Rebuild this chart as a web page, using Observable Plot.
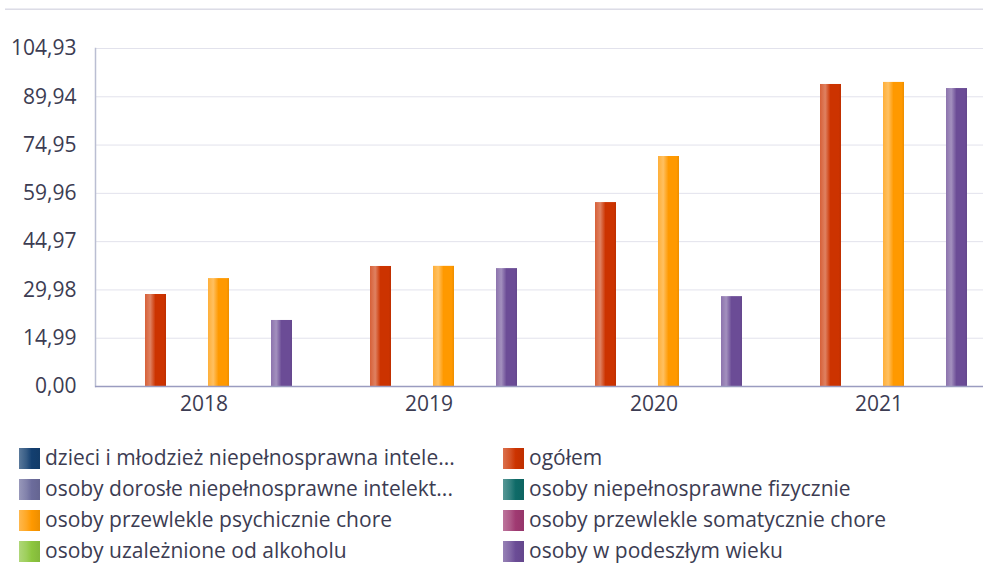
<!DOCTYPE html>
<html>
<head>
<meta charset="utf-8">
<script src="https://cdn.jsdelivr.net/npm/d3@7"></script>
<script src="https://cdn.jsdelivr.net/npm/@observablehq/plot@0.6"></script>
<style>
  html, body { margin: 0; padding: 0; background: #fff; overflow: hidden; width: 983px; height: 563px; }
  #wrap { position: relative; width: 983px; height: 563px; font-family: "Open Sans", sans-serif; overflow: hidden; }
  #topline { position: absolute; left: 5px; top: 8px; width: 990px; height: 0; border-top: 1px solid #ececf2; border-bottom: 1px solid #dcdce6; }
  #chart { position: absolute; left: 0; top: 0; width: 995px; }
  #chart svg { max-width: none !important; width: 995px; height: 425px; }
  .legend-item { position: absolute; display: flex; align-items: center; height: 21px; font-size: 21px; line-height: 21px; color: #3c3c52; white-space: nowrap; }
  .legend-item .sw { width: 21px; height: 21px; margin-right: 5px; flex: none; }
  .legend-item span { position: relative; top: -1px; }
</style>
</head>
<body>
<div id="wrap">
  <div id="topline"></div>
  <div id="chart"></div>
  <div id="legend"></div>
</div>
<script>
// ---- data ----
const years = ["2018", "2019", "2020", "2021"];
const seriesNames = [
  "dzieci i młodzież niepełnosprawna intele...",
  "ogółem",
  "osoby dorosłe niepełnosprawne intelekt...",
  "osoby niepełnosprawne fizycznie",
  "osoby przewlekle psychicznie chore",
  "osoby przewlekle somatycznie chore",
  "osoby uzależnione od alkoholu",
  "osoby w podeszłym wieku"
];
const seriesColors = ["#133f70", "#cc3300", "#6c6c9c", "#0f6b68", "#ff9900", "#a03a72", "#8dc63f", "#6b4c96"];
const ogolem = [28.56, 37.26, 57.1, 93.76];
const przewlekleChore = [33.5, 37.3, 71.4, 94.4];
const podeszlyWiek = [20.5, 36.6, 27.9, 92.5];
const yTicks = [0, 14.99, 29.98, 44.97, 59.96, 74.95, 89.94, 104.93];

// table for the library
const rows = [];
years.forEach((y, i) => {
  rows.push({year: y, series: seriesNames[1], value: ogolem[i]});
  rows.push({year: y, series: seriesNames[4], value: przewlekleChore[i]});
  rows.push({year: y, series: seriesNames[7], value: podeszlyWiek[i]});
});

const gradIds = seriesColors.map((c, i) => "grad" + i);
const mix = (c, t) => d3.interpolateRgb(c, "#ffffff")(t);

const chart = Plot.plot({
  width: 995,
  height: 425,
  marginLeft: 95,
  marginRight: 0,
  marginTop: 48,
  marginBottom: 39,
  style: {fontFamily: "'Open Sans', sans-serif", fontSize: "21px", color: "#3c3c52", background: "transparent", maxWidth: "none"},
  fx: {domain: years, paddingInner: 0, paddingOuter: 0, label: null},
  x: {domain: seriesNames, paddingInner: 0, paddingOuter: 1.357, axis: null},
  y: {domain: [0, 104.93], label: null},
  color: {domain: seriesNames, range: gradIds.map(id => `url(#${id})`)},
  marks: [
    Plot.gridY(yTicks, {stroke: "#e2e2ec", strokeOpacity: 1}),
    Plot.frame({anchor: "left", facetAnchor: "left", stroke: "#babed2", strokeWidth: 1.5}),
    Plot.barY(rows, {fx: "year", x: "series", y: "value", fill: "series"}),
    Plot.ruleY([0], {stroke: "#9a9cc0", strokeWidth: 1.5}),
    Plot.axisY(yTicks, {tickSize: 0, tickPadding: 19, fontSize: 21, label: null,
      tickFormat: d => d.toFixed(2).replace(".", ",")}),
    Plot.axisFx({anchor: "bottom", tickSize: 0, tickPadding: 10, dx: -4, fontSize: 21, label: null})
  ]
});

// gradient definitions for the bar shading
const svg = d3.select(chart);
const defs = svg.insert("defs", ":first-child");
seriesColors.forEach((c, i) => {
  const g = defs.append("linearGradient").attr("id", gradIds[i])
    .attr("x1", "0%").attr("x2", "100%").attr("y1", "0%").attr("y2", "0%");
  [[0, mix(c, 0.22)], [0.25, mix(c, 0.38)], [0.5, c], [0.88, c], [1, d3.color(c).darker(0.2).formatHex()]]
    .forEach(([o, col]) => g.append("stop").attr("offset", o).attr("stop-color", col));
});
document.getElementById("chart").appendChild(chart);

// legend
const legend = document.getElementById("legend");
const order = [0, 2, 4, 6, 1, 3, 5, 7];
order.forEach((si, k) => {
  const col = k < 4 ? 0 : 1;
  const row = k % 4;
  const c = seriesColors[si];
  const item = document.createElement("div");
  item.className = "legend-item";
  item.style.left = (col === 0 ? 19 : 503) + "px";
  item.style.top = (447.5 + row * 31) + "px";
  const sw = document.createElement("div");
  sw.className = "sw";
  sw.style.background = `linear-gradient(to right, ${mix(c, 0.3)} 0%, ${mix(c, 0.15)} 35%, ${c} 60%, ${d3.color(c).darker(0.2).formatHex()} 100%)`;
  const tx = document.createElement("span");
  tx.textContent = seriesNames[si];
  item.appendChild(sw);
  item.appendChild(tx);
  legend.appendChild(item);
});
</script>
</body>
</html>
